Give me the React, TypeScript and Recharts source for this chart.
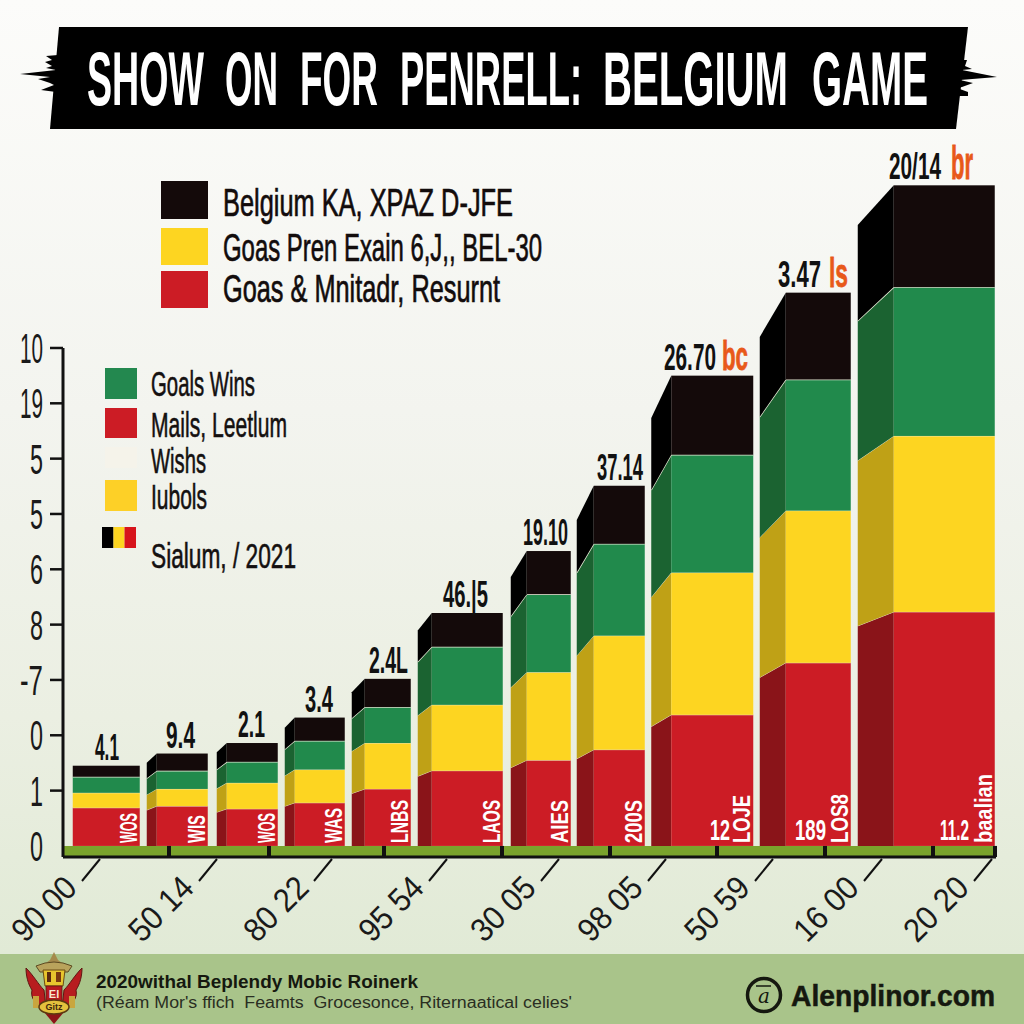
import React from "react";
import { ComposedChart, Bar, XAxis, YAxis, ReferenceArea, ReferenceLine } from "recharts";

// ---- data ----
const barPositions = [43.5, 114.5, 184.5, 252, 318.5, 397.5, 478, 548, 639.5, 742.5, 863.5];
const redValues = [0.69, 0.72, 0.67, 0.78, 1.03, 1.36, 1.55, 1.74, 2.37, 3.31, 4.23];
const yellowValues = [0.27, 0.31, 0.47, 0.6, 0.83, 1.19, 1.59, 2.06, 2.57, 2.75, 3.18];
const greenValues = [0.29, 0.33, 0.38, 0.52, 0.65, 1.05, 1.41, 1.66, 2.13, 2.37, 2.69];
const blackValues = [0.2, 0.31, 0.34, 0.42, 0.51, 0.61, 0.78, 1.05, 1.43, 1.57, 1.84];
const topLabels = ["4.1", "9.4", "2.1", "3.4", "2.4L", "46.|5", "19.10", "37.14", "26.70", "3.47", "20/14"];
const topSuffixes = ["", "", "", "", "", "", "", "", "bc", "ls", "br"];
const redTags = ["WOS", "WIS", "WOS", "WAS", "LNBS", "LAOS", "AIES", "200S", "LOJE", "LOS8", "baalian"];
const redPrefixes = ["", "", "", "", "", "", "", "", "12", "189", "11.2"];
const yTickValues = [0, 1, 2, 3, 4, 5, 6, 7, 8, 9];
const yTickLabels = ["0", "1", "0", "-7", "8", "6", "5", "5", "19", "10"];
const xTickValues = [37, 154, 269, 384, 496, 603, 710, 819, 929];
const xTickLabels = ["90 00", "50 14", "80 22", "95 54", "30 05", "98 05", "50 59", "16 00", "20 20"];
const stripTicks = [106, 206, 321, 439, 547, 654, 762, 870, 932];
const titleWords = ["SHOW", "ON", "FOR", "PENRELL:", "BELGIUM", "GAME"];
const legendTopLabels = ["Belgium KA, XPAZ D-JFE", "Goas Pren Exain 6,J,, BEL-30", "Goas & Mnitadr, Resurnt"];
const legendSideLabels = ["Goals Wins", "Mails, Leetlum", "Wishs", "Iubols", "Sialum, / 2021"];
const footerLines = ["2020withal Beplendy Mobic Roinerk", "(Réam Mor's ffich  Feamts  Grocesonce, Riternaatical celies'"];
const siteName = "Alenplinor.com";

// ---- layout and style, kept apart from the data ----
const totalWidths = [67, 61, 61, 60, 59, 85, 60, 68, 102, 91, 137];
const sideWidths = [0, 10, 10, 10, 13, 14, 16, 17, 20, 26, 36];
const slantRatios = [1, 0.9, 0.91, 0.92, 0.92, 0.925, 0.912, 0.905, 0.91, 0.92, 0.94];
const labelX = [95, 166, 238, 305, 369, 443, 523, 597, 664, 778, 889];
const labelW = [24, 29, 27, 28, 39, 45, 45, 46, 52, 43, 52];
const suffixX = [0, 0, 0, 0, 0, 0, 0, 0, 722, 829, 951];
const suffixW = [0, 0, 0, 0, 0, 0, 0, 0, 26, 19, 22];
const tagLengths = [30, 28, 30, 35, 43, 43, 43, 43, 48, 49, 69];
const prefixX = [0, 0, 0, 0, 0, 0, 0, 0, 710, 795, 940];
const prefixW = [0, 0, 0, 0, 0, 0, 0, 0, 20, 31, 29];
const titleX = [87, 225, 300, 400, 603, 812];
const titleW = [117, 53, 78, 182, 185, 116];

const BASE_Y = 846;
const AXIS_X = 63;
const NARROW = "'Liberation Sans Narrow', 'Liberation Sans', Arial, sans-serif";
const WIDE = "'Liberation Sans', Arial, sans-serif";
const BLACK = "#140a0a", BLACK_SIDE = "#000000";
const GREEN = "#218a4c", GREEN_SIDE = "#1b6331";
const YELLOW = "#fdd521", YELLOW_SIDE = "#bfa116";
const RED = "#cc1c25", RED_SIDE = "#8a1419";
const ORANGE = "#e8591a";

const chartData = barPositions.map((position, i) => ({
  position,
  red: redValues[i],
  yellow: yellowValues[i],
  green: greenValues[i],
  black: blackValues[i],
}));

function Sq({ x, y, w, size, weight = 400, fill = "#111", edge = 0, transform, children }: any) {
  return (
    <text x={x} y={y} fontFamily={NARROW} fontSize={size} fontWeight={weight} fill={fill}
      stroke={edge ? fill : "none"} strokeWidth={edge}
      textLength={w} lengthAdjust="spacingAndGlyphs" transform={transform}>{children}</text>
  );
}

function makeShape(front: string, side: string, kind: string) {
  return function Segment(props: any) {
    const { x, width, y, height, index } = props;
    const center = x + width / 2;
    const left = center - totalWidths[index] / 2;
    const sw = sideWidths[index];
    const fx = left + sw;
    const right = left + totalWidths[index];
    const bottom = y + height;
    const drop = (py: number) => BASE_Y - (BASE_Y - py) * slantRatios[index];
    return (
      <g>
        {sw > 0 && (
          <polygon points={`${left},${drop(y)} ${fx},${y} ${fx},${bottom} ${left},${drop(bottom)}`} fill={side} />
        )}
        <rect x={fx} y={y} width={right - fx} height={height} fill={front} />
        {kind !== "black" && (
          <polyline points={`${left},${drop(y)} ${fx},${y} ${right},${y}`} fill="none" stroke="#e8ecd8" strokeWidth={kind === "green" ? 1.4 : 0.8} />
        )}
        {kind === "black" && (
          <g>
            <Sq x={labelX[index]} y={y - 6} w={labelW[index]} size={36} weight={700}>{topLabels[index]}</Sq>
            {topSuffixes[index] && (
              <Sq x={suffixX[index]} y={y - 6} w={suffixW[index]} size={index === 10 ? 46 : 40} weight={700} fill={ORANGE} edge={0.8}>{topSuffixes[index]}</Sq>
            )}
          </g>
        )}
        {kind === "red" && (
          <g>
            <Sq x={right - 3} y={843} w={tagLengths[index]} size={23} weight={700} fill="#fff"
              transform={`rotate(-90 ${right - 3} 843)`}>{redTags[index]}</Sq>
            {redPrefixes[index] && (
              <Sq x={prefixX[index]} y={840} w={prefixW[index]} size={30} weight={700} fill="#fff">{redPrefixes[index]}</Sq>
            )}
          </g>
        )}
      </g>
    );
  };
}

function YTick(props: any) {
  const { y, payload, index } = props;
  const label = yTickLabels[index];
  const w = label.length > 1 ? 23 : 13;
  return (
    <g>
      {payload.value > 0 && <line x1={AXIS_X - 13} x2={AXIS_X} y1={y} y2={y} stroke="#111" strokeWidth={2.5} />}
      <Sq x={43 - w} y={y + 15} w={w} size={42} fill="#1a1a1a">{label}</Sq>
    </g>
  );
}

function XTick(props: any) {
  const { x, index } = props;
  const cx = x - 56, cy = 909;
  return (
    <g>
      <line x1={x} y1={859} x2={x - 18} y2={881} stroke="#111" strokeWidth={2} />
      <text x={cx} y={cy + 11} textAnchor="middle" fontFamily={NARROW} fontSize={33} fill="#1a1a1a"
        textLength={76} lengthAdjust="spacingAndGlyphs" transform={`rotate(-45 ${cx} ${cy})`}>{xTickLabels[index]}</text>
    </g>
  );
}

function BackLayer() {
  return (
    <svg width={1024} height={1024} style={{ position: "absolute", left: 0, top: 0 }}>
      <defs>
        <linearGradient id="page" x1="0" y1="0" x2="0" y2="1">
          <stop offset="0" stopColor="#fcfcfa" />
          <stop offset="0.4" stopColor="#f3f4ef" />
          <stop offset="0.7" stopColor="#ebefe2" />
          <stop offset="0.93" stopColor="#e1ead6" />
        </linearGradient>
      </defs>
      <rect width={1024} height={1024} fill="url(#page)" />
      <rect y={954} width={1024} height={70} fill="#a9c48a" />
    </svg>
  );
}

function Crest() {
  return (
    <g>
      <polygon points="54,952 50,960 46,963 62,963 58,960" fill="#a58a4c" />
      <path d="M36,966 Q54,958 72,966 L68,972 L40,972 Z" fill="#b9a35c" stroke="#5d4a22" strokeWidth={1} />
      <path d="M26,968 C34,976 38,984 44,990 L46,1008 C36,1006 30,998 32,990 C28,984 26,976 26,968 Z" fill="#b71c1f" stroke="#5e1512" strokeWidth={1} />
      <path d="M82,968 C74,976 70,984 64,990 L62,1008 C72,1006 78,998 76,990 C80,984 82,976 82,968 Z" fill="#b71c1f" stroke="#5e1512" strokeWidth={1} />
      <rect x={33} y={996} width={6} height={12} fill="#c9a63e" />
      <rect x={69} y={996} width={6} height={12} fill="#c9a63e" />
      <path d="M43,970 L65,970 L63,986 L45,986 Z" fill="#e8c52e" stroke="#6a4a12" strokeWidth={1} />
      <rect x={47} y={972} width={4} height={10} fill="#5a2a10" />
      <rect x={56} y={972} width={5} height={10} fill="#7a3a10" />
      <rect x={46} y={986} width={16} height={16} fill="#b7181f" stroke="#5e1512" strokeWidth={0.8} />
      <text x={54} y={998} textAnchor="middle" fontFamily={NARROW} fontSize={11} fontWeight={700} fill="#f6e8d0">El</text>
      <polygon points="44,1012 64,1012 54,1024" fill="#8c1418" />
      <ellipse cx={54} cy={1007} rx={15} ry={7} fill="#e3c13d" stroke="#5a3a10" strokeWidth={1.5} />
      <text x={54} y={1010} textAnchor="middle" fontFamily={NARROW} fontSize={9} fontWeight={700} fill="#3f2a0c">Gitz</text>
    </g>
  );
}

function FrontLayer() {
  const topSwatches = [[181, 38, BLACK], [228, 37, YELLOW], [271, 37, RED]];
  const topBase = [216, 261, 302];
  const topW = [290, 319, 277];
  const sideSwatches = [[368, 31, "#23884f"], [408, 30, RED], [447, 21, "#f5f3ea"], [480, 31, "#fdd027"]];
  const sideBase = [396, 437, 473, 509, 568];
  const sideW = [104, 136, 55, 56, 145];
  return (
    <svg width={1024} height={1024} style={{ position: "absolute", left: 0, top: 0, pointerEvents: "none" }}>
      {/* title banner */}
      <polygon points="59,27 968,27 956,129 50,129" fill="#000" />
      <polygon points="58,55 46,56 52,60 45,62 52,66 46,68 56,70 20,74 50,77 38,79 50,83 54,85 41,90 56,92" fill="#000" />
      <polygon points="958,60 967,60 965,66 972,69 962,70 997,77 960,80 973,83 962,87 957,88 968,92 968,96 958,96" fill="#000" />
      {titleWords.map((t, i) => (
        <text key={t} x={titleX[i]} y={105} fontFamily={NARROW} fontSize={76} fontWeight={700} fill="#fff"
          textLength={titleW[i]} lengthAdjust="spacingAndGlyphs">{t}</text>
      ))}

      {/* upper legend */}
      {topSwatches.map(([y, h, c]: any, i) => (
        <rect key={i} x={161} y={y} width={47} height={h} fill={c} />
      ))}
      {legendTopLabels.map((t, i) => (
        <Sq key={t} x={223} y={topBase[i]} w={topW[i]} size={39} fill="#120c0c" edge={0.7}>{t}</Sq>
      ))}

      {/* side legend */}
      {sideSwatches.map(([y, h, c]: any, i) => (
        <rect key={i} x={105} y={y} width={32} height={h} fill={c} />
      ))}
      <rect x={102} y={527} width={11.5} height={21} fill="#000" />
      <rect x={113.5} y={527} width={11} height={21} fill="#fdd521" />
      <rect x={124.5} y={527} width={11.5} height={21} fill="#d7141c" />
      {legendSideLabels.map((t, i) => (
        <Sq key={t} x={151} y={sideBase[i]} w={sideW[i]} size={35} fill="#141010" edge={0.6}>{t}</Sq>
      ))}

      <Crest />

      {/* footer text */}
      <text x={96} y={988} fontFamily={WIDE} fontSize={18} fontWeight={700} fill="#15180f"
        textLength={322} lengthAdjust="spacingAndGlyphs">{footerLines[0]}</text>
      <text x={96} y={1008} fontFamily={WIDE} fontSize={16} fill="#2a2e22"
        textLength={476} lengthAdjust="spacingAndGlyphs" xmlSpace="preserve">{footerLines[1]}</text>

      {/* site mark */}
      <circle cx={764} cy={995} r={16.5} fill="none" stroke="#15180f" strokeWidth={3.5} />
      <text x={764} y={1003} textAnchor="middle" fontFamily="'DejaVu Serif', serif" fontStyle="italic" fontSize={20} fill="#15180f">a</text>
      <line x1={756} x2={771} y1={986} y2={986} stroke="#15180f" strokeWidth={1.5} />
      <text x={791} y={1006} fontFamily={WIDE} fontSize={29} fontWeight={700} fill="#15180f"
        stroke="#15180f" strokeWidth={0.5} textLength={204} lengthAdjust="spacingAndGlyphs">{siteName}</text>
    </svg>
  );
}

export default function App() {
  return (
    <div style={{ position: "fixed", left: 0, top: 0, width: 1024, height: 1024, overflow: "hidden" }}>
      <BackLayer />
      <div style={{ position: "absolute", left: 0, top: 0 }}>
        <ComposedChart width={1024} height={1024} data={chartData}
          margin={{ top: 182, right: 28, bottom: 0, left: 0 }} barGap={0}>
          <XAxis type="number" dataKey="position" domain={[0, 933]} ticks={xTickValues} interval={0}
            height={167} tickLine={false} axisLine={{ stroke: "#111", strokeWidth: 3 }} tick={<XTick />} />
          <YAxis type="number" domain={[-0.2, 12]} ticks={yTickValues} interval={0} width={63}
            tickLine={false} axisLine={false} tick={<YTick />} />
          <ReferenceArea x1={0} x2={933} y1={-0.2} y2={0} fill="#7aa32c" fillOpacity={1} stroke="none" />
          <ReferenceLine segment={[{ x: 0, y: -0.2 }, { x: 0, y: 9 }]} stroke="#111" strokeWidth={3} />
          {stripTicks.map((t) => (
            <ReferenceLine key={t} segment={[{ x: t, y: -0.2 }, { x: t, y: 0 }]} stroke="#111" strokeWidth={4} />
          ))}
          <Bar dataKey="red" stackId="s" barSize={40} isAnimationActive={false} shape={makeShape(RED, RED_SIDE, "red")} />
          <Bar dataKey="yellow" stackId="s" barSize={40} isAnimationActive={false} shape={makeShape(YELLOW, YELLOW_SIDE, "yellow")} />
          <Bar dataKey="green" stackId="s" barSize={40} isAnimationActive={false} shape={makeShape(GREEN, GREEN_SIDE, "green")} />
          <Bar dataKey="black" stackId="s" barSize={40} isAnimationActive={false} shape={makeShape(BLACK, BLACK_SIDE, "black")} />
        </ComposedChart>
      </div>
      <FrontLayer />
    </div>
  );
}
